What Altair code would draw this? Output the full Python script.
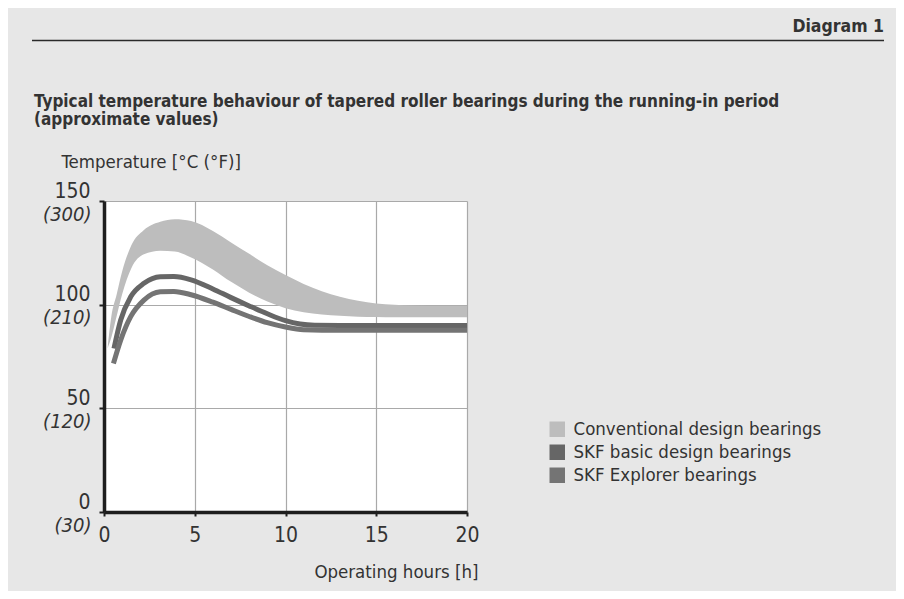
import altair as alt
import pandas as pd

# ---------------- data ----------------
series_names = ["Conventional design bearings", "SKF basic design bearings", "SKF Explorer bearings"]
series_colors = ["#bdbdbd", "#666666", "#747474"]

conv_x = [0.2, 0.4, 0.7, 1.0, 1.5, 2.2, 3.1, 3.9, 4.8, 6.0, 7.0, 8.0, 9.0, 10.0, 11.0, 12.0, 13.0, 14.0, 15.0, 16.0, 17.0, 18.5, 20.0]
conv_hi = [79, 94, 105, 116, 128.5, 136, 140, 141.2, 140.3, 135.5, 130, 124.5, 119, 114.3, 110, 106.5, 103.8, 101.9, 100.6, 99.9, 99.6, 99.5, 99.5]
conv_lo = [79, 84, 94.5, 105, 117.5, 124.3, 126, 125.6, 122.8, 117, 111, 105.8, 101.5, 98.3, 96.3, 95.2, 94.6, 94.2, 94.0, 93.9, 93.9, 93.9, 93.9]

basic_x = [0.55, 0.92, 1.47, 2.2, 3.1, 3.85, 4.8, 6.0, 7.0, 8.0, 9.0, 10.0, 10.8, 11.6, 13.0, 20.0]
basic_y = [78.9, 92.6, 103.8, 110.3, 113.5, 113.6, 112, 107.6, 103.4, 99.4, 95.6, 92.3, 90.7, 90.1, 90, 90]

expl_x = [0.52, 0.92, 1.47, 2.2, 3.1, 3.85, 4.8, 6.0, 7.0, 8.0, 9.0, 10.0, 11.0, 12.0, 20.0]
expl_y = [71.6, 82.9, 94.2, 102.2, 106.2, 106.4, 104.8, 101.2, 97.7, 94.3, 91.3, 89.2, 87.9, 87.7, 87.7]

x_ticks = [0, 5, 10, 15, 20]
y_ticks = [0, 50, 100, 150]
f_labels = ["(30)", "(120)", "(210)", "(300)"]

header_text = "Diagram 1"
title_lines = ["Typical temperature behaviour of tapered roller bearings during the running-in period",
               "(approximate values)"]
y_title = "Temperature [°C (°F)]"
x_title = "Operating hours [h]"

FONT = "Liberation Sans Narrow, DejaVu Sans Condensed, Roboto"
TXT = "#333333"

band_df = pd.DataFrame({"x": conv_x, "hi": conv_hi, "lo": conv_lo, "series": series_names[0]})
basic_df = pd.DataFrame({"x": basic_x, "y": basic_y, "series": series_names[1]})
expl_df = pd.DataFrame({"x": expl_x, "y": expl_y, "series": series_names[2]})
header_df = pd.DataFrame({"t": [header_text]})

xscale = alt.Scale(domain=[0, 20], nice=False)
yscale = alt.Scale(domain=[0, 150], nice=False)
cscale = alt.Scale(domain=series_names, range=series_colors)

f_expr = " : ".join(f"datum.value == {v} ? '{l}'" for v, l in zip(y_ticks, f_labels)) + " : ''"

x_axis = alt.Axis(values=x_ticks, grid=True, gridColor="#a9a9a9", gridWidth=1.2,
                  domainColor="#1e1e1e", domainWidth=3.5, tickColor="#1e1e1e", tickWidth=2, tickSize=4,
                  labelFontSize=21, labelPadding=8, labelColor=TXT, labelFont=FONT, labelFlush=False,
                  title=x_title, titleFont=FONT, titleFontSize=18.5, titleFontWeight="normal", titleColor=TXT,
                  titleAnchor="start", titleAlign="right", titleBaseline="alphabetic", titleX=374, titleY=65)

yc_axis = alt.Axis(values=y_ticks, grid=True, gridColor="#a9a9a9", gridWidth=1.2,
                   domainColor="#1e1e1e", domainWidth=3.5, tickColor="#1e1e1e", tickWidth=2, tickSize=5,
                   labelFontSize=21, labelPadding=9, labelColor=TXT, labelFont=FONT,
                   labelBaseline="alphabetic", labelOffset=-4,
                   title=y_title, titleFont=FONT, titleFontSize=18.5, titleFontWeight="normal", titleColor=TXT,
                   titleAngle=0, titleAlign="left", titleBaseline="alphabetic", titleX=-43, titleY=-34)

yf_axis = alt.Axis(orient="left", values=y_ticks, grid=False, domain=False, ticks=False,
                   labelExpr=f_expr, labelFontSize=20, labelFontStyle="italic", labelPadding=13,
                   labelColor=TXT, labelFont=FONT, labelBaseline="top", labelOffset=3, title=None)

legend = alt.Legend(orient="none", legendX=444, legendY=219, title=None, symbolType="square",
                    symbolSize=240, symbolStrokeWidth=0, symbolOpacity=1, labelFont=FONT,
                    labelFontSize=18.5, labelColor=TXT, labelOffset=7, labelLimit=0,
                    rowPadding=4, padding=0)

band = alt.Chart(band_df).mark_area(interpolate="monotone", opacity=1).encode(
    x=alt.X("x:Q", scale=xscale, axis=x_axis),
    y=alt.Y("hi:Q", scale=yscale, axis=yc_axis),
    y2="lo:Q",
    color=alt.Color("series:N", scale=cscale, legend=legend),
)

basic = alt.Chart(basic_df).mark_line(interpolate="monotone", strokeWidth=5).encode(
    x=alt.X("x:Q", scale=xscale),
    y=alt.Y("y:Q", scale=yscale, axis=yf_axis),
    color=alt.Color("series:N", scale=cscale, legend=legend),
)

expl = alt.Chart(expl_df).mark_line(interpolate="monotone", strokeWidth=5).encode(
    x=alt.X("x:Q", scale=xscale),
    y=alt.Y("y:Q", scale=yscale, axis=None),
    color=alt.Color("series:N", scale=cscale, legend=legend),
)

divider = alt.Chart(header_df).mark_rule(color="#2a2a2a", strokeWidth=1.5).encode(
    x=alt.value(-72), x2=alt.value(780), y=alt.value(-160.5))

header = alt.Chart(header_df).mark_text(align="right", baseline="alphabetic", font=FONT,
                                        fontSize=17.5, fontWeight="bold", color=TXT).encode(
    x=alt.value(780), y=alt.value(-169), text="t:N")

chart = alt.layer(band, basic, expl, divider, header).resolve_axis(y="independent").properties(
    width=363, height=311,
    autosize=alt.AutoSizeParams(type="none"),
    padding={"left": 96, "top": 193, "right": 429, "bottom": 79},
    background="#e7e7e7",
    title=alt.Title(text=title_lines, anchor="start", frame="group", dx=-70, offset=-111,
                    font=FONT, fontSize=17, fontWeight="bold", color=TXT, lineHeight=18.5),
).configure_view(fill="white", strokeOpacity=0)

chart.save("out.html", embed_options={"renderer": "svg", "actions": False})
